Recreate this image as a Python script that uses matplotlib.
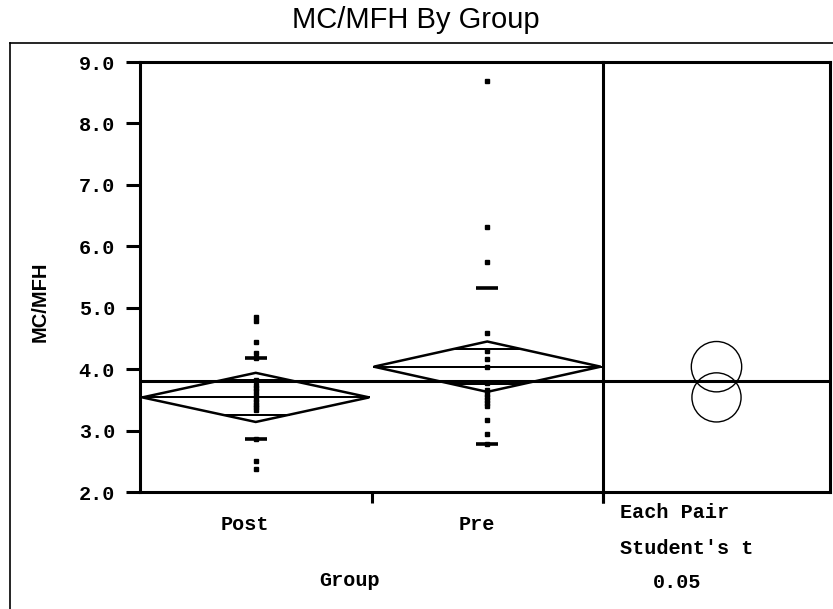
import matplotlib
matplotlib.use("Agg")
import matplotlib.pyplot as plt
from matplotlib.patches import Polygon, Circle
from matplotlib.lines import Line2D

# ---------------- data ----------------
groups = ["Post", "Pre"]
post_values = [4.85, 4.79, 4.44, 4.26, 4.18, 3.83, 3.74, 3.70, 3.64, 3.58, 3.52,
               3.47, 3.42, 3.38, 3.33, 2.86, 2.50, 2.37]
pre_values = [8.69, 6.32, 5.74, 4.59, 4.29, 4.16, 4.03, 3.77, 3.66, 3.60, 3.55,
              3.50, 3.45, 3.40, 3.18, 2.94, 2.78]
group_means = [3.54, 4.04]
group_ci = [0.40, 0.41]          # half-width of 95% CI
q10 = [2.86, 2.78]
q90 = [4.18, 5.32]
grand_mean = 3.80
yticks = [2.0, 3.0, 4.0, 5.0, 6.0, 7.0, 8.0, 9.0]
title = "MC/MFH By Group"
ylabel = "MC/MFH"
xlabel = "Group"
comparison_text = ["Each Pair", "Student's t", "0.05"]

# ---------------- layout ----------------
W, H = 833, 609
fig = plt.figure(figsize=(W / 100, H / 100), dpi=100)
fig.patch.set_facecolor("white")

mono = "Liberation Mono"
sans = "Liberation Sans"

L, R, D, T, B = 140, 830, 603, 62, 492
ax = fig.add_axes([L / W, 1 - B / H, (D - L) / W, (B - T) / H])
ax2 = fig.add_axes([D / W, 1 - B / H, (R - D) / W, (B - T) / H])

ymin, ymax = 2.0, 9.0
for a in (ax, ax2):
    a.set_ylim(ymin, ymax)
    for s in a.spines.values():
        s.set_linewidth(2.2)
        s.set_color("black")

ax.set_xlim(0, 2)
values = [post_values, pre_values]
lw = 1.8
for i, (vals, m, ci) in enumerate(zip(values, group_means, group_ci)):
    x0, x1, xc = i + 0.01, i + 0.99, i + 0.5
    # means diamond
    dia = Polygon([[x0, m], [xc, m + ci], [x1, m], [xc, m - ci]], closed=True,
                  fill=False, edgecolor="black", linewidth=lw, zorder=3)
    ax.add_patch(dia)
    ax.plot([x0, x1], [m, m], color="black", lw=lw * 0.8, zorder=3)
    # overlap marks
    off = ci / 2 ** 0.5
    frac = 1 - off / ci
    half = (x1 - x0) / 2 * frac
    for yy in (m + off, m - off):
        ax.plot([xc - half, xc + half], [yy, yy], color="black", lw=lw * 0.8, zorder=3)
    # points
    ax.plot([xc] * len(vals), vals, linestyle="none", marker="s", ms=3.3,
            color="black", zorder=4)
    # quantile dashes
    for q in (q10[i], q90[i]):
        ax.plot([xc - 0.048, xc + 0.048], [q, q], color="black", lw=2.6,
                solid_capstyle="butt", zorder=4)

ax.axhline(grand_mean, color="black", lw=2.2, zorder=5)
ax2.axhline(grand_mean, color="black", lw=2.2, zorder=5)

# y axis ticks
ax.set_yticks(yticks)
ax.set_yticklabels([f"{v:.1f}" for v in yticks], fontfamily=mono,
                   fontsize=14.5, fontweight="bold")
ax.tick_params(axis="y", direction="out", length=10, width=2.2, pad=8)
ax.set_xticks([1, 2])
ax.set_xticklabels(["", ""])
ax.tick_params(axis="x", direction="out", length=8, width=2.2)
ax.spines["right"].set_visible(False)

# right comparison panel
wpx, hpx = R - D, B - T
xr = (ymax - ymin) * wpx / hpx
ax2.set_xlim(-xr / 2, xr / 2)
ax2.set_xticks([-xr / 2])
ax2.set_xticklabels([""])
ax2.tick_params(axis="x", direction="out", length=8, width=2.2)
ax2.set_yticks([])
for m, ci in zip(group_means, group_ci):
    ax2.add_patch(Circle((0, m), ci, fill=False, edgecolor="black", lw=1.0))

# texts in figure pixels
def ftext(x, y, s, **kw):
    fig.text(x / W, 1 - y / H, s, **kw)

# category labels (centred slightly left of the group centres, as in reference)
label_shift = -0.047
for i, g in enumerate(groups):
    xpix = L + (i + 0.5 + label_shift) * (D - L) / 2
    ftext(xpix, 525, g, fontfamily=mono, fontsize=14.5, fontweight="bold",
          ha="center", va="center")

ftext(416, 20, title, fontfamily=sans, fontsize=21, ha="center", va="center")
ftext(40, 302, ylabel, fontfamily=sans, fontsize=14.5, fontweight="bold",
      rotation=90, ha="center", va="center")
ftext(350, 580, xlabel, fontfamily=mono, fontsize=14.5, fontweight="bold",
      ha="center", va="center")
ftext(620, 512, comparison_text[0], fontfamily=mono, fontsize=14.5,
      fontweight="bold", ha="left", va="center")
ftext(620, 548, comparison_text[1], fontfamily=mono, fontsize=14.5,
      fontweight="bold", ha="left", va="center")
ftext(677, 583, comparison_text[2], fontfamily=mono, fontsize=14.5,
      fontweight="bold", ha="center", va="center")

# outer frame
fig.add_artist(Line2D([10 / W, 10 / W], [0, 1 - 43 / H], color="black", lw=1.2,
                      transform=fig.transFigure))
fig.add_artist(Line2D([10 / W, 1], [1 - 43 / H, 1 - 43 / H], color="black", lw=1.2,
                      transform=fig.transFigure))

fig.savefig("out.png", dpi=100)
